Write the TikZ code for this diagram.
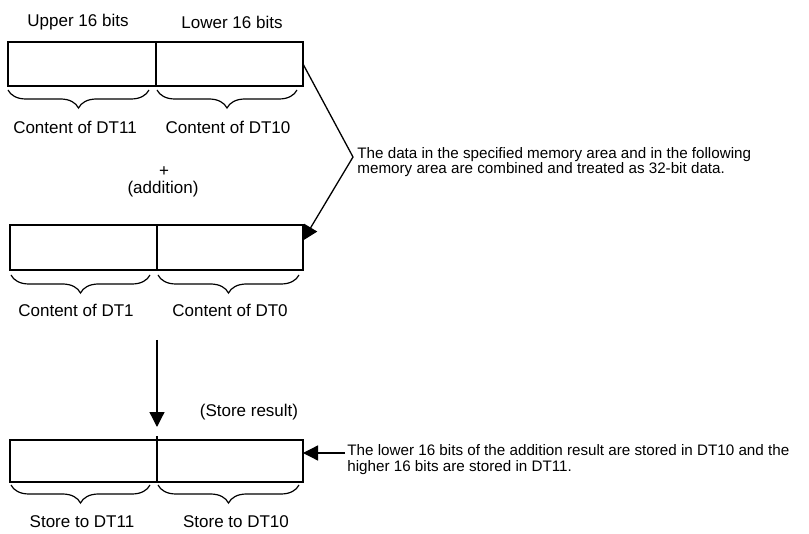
\documentclass[tikz,border=0pt]{standalone}
\usepackage{fontspec}
\setmainfont{Liberation Sans}
\usetikzlibrary{arrows.meta,decorations.pathreplacing}
\begin{document}
\begin{tikzpicture}[x=0.5pt,y=-0.5pt,
  cell/.style={draw,line width=0.65pt,inner sep=0,outer sep=0},
  lbl/.style={inner sep=0,font=\fontsize{8.5}{10}\selectfont},
  note/.style={inner sep=0,align=left,anchor=west,font=\fontsize{7.6}{7.7}\selectfont},
  brc/.style={decorate,decoration={brace,mirror,amplitude=9pt},line width=0.6pt},
  tipline/.style={-{Triangle[length=7.5pt,width=7.5pt]},line width=0.65pt}]
\useasboundingbox (0,0) rectangle (809,534);

% Box 1
\node[cell,minimum width=74pt,minimum height=22pt] (b1l) at (82,64) {};
\node[cell,minimum width=73.5pt,minimum height=22pt] (b1r) at (229.5,64) {};
\node[lbl] (u16) at (78,22) {Upper 16 bits};
\node[lbl] (l16) at (232,22) {Lower 16 bits};
\draw[brc] (8,90) -- (149,90);
\draw[brc] (157,90) -- (297,90);
\node[lbl] (c11) at (75,127) {Content of DT11};
\node[lbl] (c10) at (228,127) {Content of DT10};

\node[lbl] (plus) at (164,172) {+};
\node[lbl] (add) at (163,189) {(addition)};

% Box 2
\node[cell,minimum width=73.5pt,minimum height=22.5pt] (b2l) at (83.5,247.5) {};
\node[cell,minimum width=73pt,minimum height=22.5pt] (b2r) at (230,247.5) {};
\draw[brc] (11,275) -- (150,275);
\draw[brc] (158,275) -- (299,275);
\node[lbl] (c1) at (76,310) {Content of DT1};
\node[lbl] (c0) at (230,310) {Content of DT0};

% Note 1
\node[note] (n1) at (357,162) {The data in the specified memory area and in the following\\memory area are combined and treated as 32-bit data.};
\coordinate (apex) at (353,157);
\draw[tipline] (b1r.east) -- (apex) -- ([yshift=3.5pt]b2r.east);

% Down arrow
\coordinate (dstart) at (157,340);
\coordinate (dend) at (157,427);
\draw[tipline] (dstart) -- (dend);
\node[lbl] (store) at (249,412) {(Store result)};

% Box 3
\node[cell,minimum width=73.5pt,minimum height=21pt] (b3l) at (83.5,461) {};
\node[cell,minimum width=73pt,minimum height=21pt] (b3r) at (230,461) {};
\draw[line width=0.65pt] (b3l.north east) -- ++(0,-4);
\draw[brc] (11,485) -- (150,485);
\draw[brc] (158,485) -- (299,485);
\node[lbl] (s11) at (82,522) {Store to DT11};
\node[lbl] (s10) at (236,522) {Store to DT10};

% Note 2
\node[note] (n2) at (347,459.5) {The lower 16 bits of the addition result are stored in DT10 and the\\higher 16 bits are stored in DT11.};
\coordinate (n2s) at (345,453);
\draw[tipline] (n2s) -- ([yshift=4pt]b3r.east);
\end{tikzpicture}
\end{document}
